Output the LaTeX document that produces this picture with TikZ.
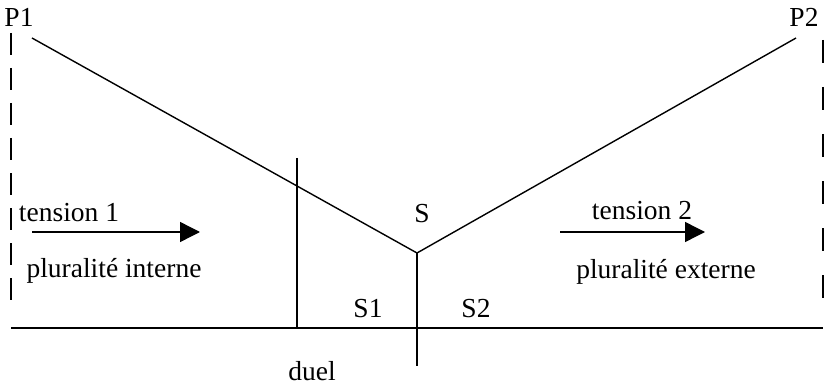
\documentclass[tikz,border=0pt]{standalone}
\usepackage{fontspec}
\setmainfont{Liberation Serif}
\usetikzlibrary{arrows.meta}
\begin{document}
\begin{tikzpicture}[x=1pt,y=-1pt,
  ln/.style={line width=1.4pt},
  lbl/.style={inner sep=0pt,anchor=base,font=\fontsize{27.5}{32}\selectfont},
  tarrow/.style={ln,-{Triangle[length=20pt,width=20pt]}},
  leftdash/.style={ln,dash pattern=on 22pt off 13pt},
  rightdash/.style={ln,dash pattern=on 23pt off 24pt}]
\useasboundingbox (0,0) rectangle (838,385);
% labels
\node[lbl] (p1) at (19,27) {P1};
\node[lbl] (p2) at (804,27) {P2};
\node[lbl] (t1) at (69,221) {tension 1};
\node[lbl] (t2) at (642,219) {tension 2};
\node[lbl] (pi) at (114,277) {pluralité interne};
\node[lbl] (pe) at (666,278) {pluralité externe};
\node[lbl] (s) at (422,222) {S};
\node[lbl] (s1) at (368,317) {S1};
\node[lbl] (s2) at (476,317) {S2};
\node[lbl] (duel) at (312,380) {duel};
% key points
\coordinate (a1) at (32,38);
\coordinate (a2) at (796,38);
\coordinate (v) at (417,253);
\coordinate (vb) at (417,366);
\coordinate (hl) at (11,328);
\coordinate (hr) at (823,328);
\coordinate (dt) at (297,158);
\coordinate (db) at (297,328);
\coordinate (ltop) at (11,33);
\coordinate (lbot) at (11,303);
\coordinate (rtop) at (823,40);
\coordinate (rbot) at (823,303);
\coordinate (t1a) at (32,232);
\coordinate (t1b) at (200,232);
\coordinate (t2a) at (560,232);
\coordinate (t2b) at (705,232);
% the V and its stem
\draw[ln] (a1) -- (v) -- (a2);
\draw[ln] (v) -- (vb);
\draw[ln] (hl) -- (hr);
\draw[ln] (dt) -- (db);
% dashed borders
\draw[leftdash] (ltop) -- (lbot);
\draw[rightdash] (rtop) -- (rbot);
% tension arrows
\draw[tarrow] (t1a) -- (t1b);
\draw[tarrow] (t2a) -- (t2b);
\end{tikzpicture}
\end{document}
